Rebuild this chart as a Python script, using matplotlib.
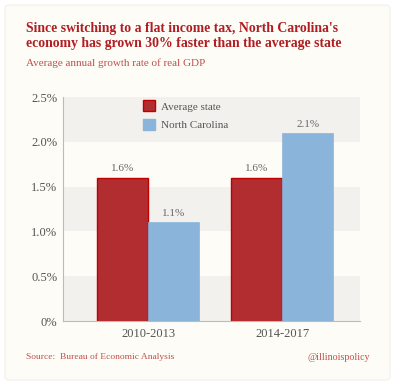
import numpy as np
import matplotlib
matplotlib.use('Agg')
import matplotlib.pyplot as plt
from matplotlib.patches import FancyBboxPatch, Patch

# data
periods = ['2010-2013', '2014-2017']
avg_state = [1.6, 1.6]
north_carolina = [1.1, 2.1]
series_names = ['Average state', 'North Carolina']
yticks = [0, 0.5, 1.0, 1.5, 2.0, 2.5]
ytick_labels = ['0%', '0.5%', '1.0%', '1.5%', '2.0%', '2.5%']

W, H = 395, 385
fig = plt.figure(figsize=(W / 100, H / 100), dpi=100)
fig.patch.set_facecolor('white')

# cream card
card = FancyBboxPatch((5 / W, 5 / H), 385 / W, 375 / H,
                      boxstyle='round,pad=0,rounding_size=0.01',
                      transform=fig.transFigure, facecolor='#fdfcf6',
                      edgecolor='#f1efe8', linewidth=0.8, zorder=-5)
fig.patches.append(card)

serif = ['Liberation Serif', 'DejaVu Serif']
red_text = '#b01e23'

fig.text(26 / W, 1 - 22 / H,
         "Since switching to a flat income tax, North Carolina's\n"
         "economy has grown 30% faster than the average state",
         family=serif, weight='bold', fontsize=9.9, color=red_text,
         va='top', ha='left', linespacing=1.25)
fig.text(26 / W, 1 - 63 / H, 'Average annual growth rate of real GDP',
         family=serif, fontsize=8, color='#c0504d', va='center', ha='left')

ax = fig.add_axes([63 / W, 1 - 321 / H, 297 / W, 224 / H])
ax.set_facecolor('#fdfcf6')

# alternating bands
for lo in [0.0, 1.0, 2.0]:
    ax.axhspan(lo, lo + 0.5, color='#f2f1ee', zorder=0, lw=0)

x = np.arange(len(periods))
w = 0.38
b1 = ax.bar(x - w / 2, avg_state, w, color='#b22d30', edgecolor='#c00000',
            linewidth=1.0, zorder=2)
b2 = ax.bar(x + w / 2, north_carolina, w, color='#8ab4d9',
            edgecolor='#8ab4d9', linewidth=0.5, zorder=2)

for bars, vals in [(b1, avg_state), (b2, north_carolina)]:
    for r, v in zip(bars, vals):
        ax.annotate(f'{v:.1f}%', (r.get_x() + r.get_width() / 2, v),
                    xytext=(0, 3), textcoords='offset points',
                    ha='center', va='bottom', family=serif, fontsize=8,
                    color='#666666')

ax.set_xlim(-0.634, 1.58)
ax.set_ylim(0, 2.5)
ax.set_yticks(yticks)
ax.set_yticklabels(ytick_labels)
ax.set_xticks(x)
ax.set_xticklabels(periods)
ax.tick_params(axis='both', length=0, labelsize=9, labelcolor='#555555')
ax.tick_params(axis='y', pad=4)
ax.tick_params(axis='x', pad=5)
for lab in ax.get_xticklabels() + ax.get_yticklabels():
    lab.set_family(serif)

for s in ['top', 'right']:
    ax.spines[s].set_visible(False)
for s in ['left', 'bottom']:
    ax.spines[s].set_color('#bbbbbb')
    ax.spines[s].set_linewidth(0.8)

handles = [Patch(facecolor='#b22d30', edgecolor='#c00000', lw=1.0),
           Patch(facecolor='#8ab4d9', edgecolor='#8ab4d9')]
leg = ax.legend(handles, series_names, loc='upper left',
                bbox_to_anchor=(70 / 297, 1.03), frameon=False,
                prop={'family': serif, 'size': 8}, handlelength=1.1,
                handleheight=1.15, labelspacing=0.65, handletextpad=0.5)
for t in leg.get_texts():
    t.set_color('#555555')

fig.text(26 / W, 1 - 357 / H, 'Source:  Bureau of Economic Analysis',
         family=serif, fontsize=6.8, color='#c0504d', va='center', ha='left')
fig.text(370 / W, 1 - 357 / H, '@illinoispolicy',
         family=serif, fontsize=7.2, color='#c0504d', va='center', ha='right')

fig.savefig('out.png', dpi=100, facecolor=fig.get_facecolor())
